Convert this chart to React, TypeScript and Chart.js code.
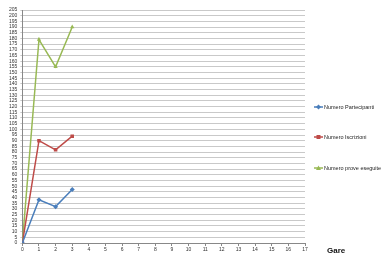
import React, { useEffect, useRef } from "react";
import { Chart, registerables } from "chart.js";

Chart.register(...registerables);

const gare = [0, 1, 2, 3];
const partecipanti = [0, 38, 32, 47];
const iscrizioni = [0, 90, 82, 94];
const proveEseguite = [0, 179, 155, 190];
const seriesNames = ["Numero Partecipanti", "Numero Iscrizioni", "Numero prove eseguite"];
const xAxisTitle = "Gare";

const colors = ["#4A7EBB", "#BE4B48", "#98B954"];
const markers = ["rectRot", "rect", "triangle"];

export default function App() {
  const ref = useRef<HTMLCanvasElement>(null);
  useEffect(() => {
    const ctx = ref.current!;
    const series = [partecipanti, iscrizioni, proveEseguite];
    const legendPlugin = {
      id: "sideLegend",
      afterDraw(chart: any) {
        const c = chart.ctx;
        const area = chart.chartArea;
        const ys = [107, 137, 168];
        c.save();
        chart.data.datasets.forEach((ds: any, i: number) => {
          const x0 = area.right + 9;
          const y = ys[i];
          c.strokeStyle = ds.borderColor;
          c.lineWidth = 1.5;
          c.beginPath();
          c.moveTo(x0, y);
          c.lineTo(x0 + 9, y);
          c.stroke();
          c.fillStyle = ds.borderColor;
          const cx = x0 + 4.5;
          c.beginPath();
          if (ds.pointStyle === "rect") c.rect(cx - 2, y - 2, 4, 4);
          else if (ds.pointStyle === "rectRot") { c.moveTo(cx, y - 2.5); c.lineTo(cx + 2.5, y); c.lineTo(cx, y + 2.5); c.lineTo(cx - 2.5, y); c.closePath(); }
          else { c.moveTo(cx, y - 2.5); c.lineTo(cx + 2.5, y + 2); c.lineTo(cx - 2.5, y + 2); c.closePath(); }
          c.fill();
          c.fillStyle = "#222";
          c.font = "5.5px Arial, 'Liberation Sans', sans-serif";
          c.textBaseline = "middle";
          c.textAlign = "left";
          c.fillText(ds.label, x0 + 10, y);
        });
        c.font = "bold 8px Arial, 'Liberation Sans', sans-serif";
        c.fillStyle = "#111";
        c.textAlign = "left";
        c.textBaseline = "middle";
        c.fillText(xAxisTitle, area.right + 22, area.bottom + 8);
        c.restore();
      },
    };
    const chart = new Chart(ctx, {
      type: "line",
      data: {
        datasets: series.map((s, i) => ({
          label: seriesNames[i],
          data: s.map((v, j) => ({ x: gare[j], y: v })),
          borderColor: colors[i],
          backgroundColor: colors[i],
          borderWidth: 1.5,
          pointStyle: markers[i] as any,
          pointRadius: 2.5,
          pointBorderWidth: 0,
          tension: 0,
        })),
      },
      options: {
        responsive: false,
        animation: false,
        layout: { padding: { left: 6, right: 83, top: 10, bottom: 0 } },
        plugins: { legend: { display: false }, tooltip: { enabled: false } },
        scales: {
          x: {
            type: "linear",
            min: 0,
            max: 17,
            ticks: { stepSize: 1, font: { size: 5, family: "Arial" }, color: "#333", padding: 1 },
            grid: { display: true, drawOnChartArea: false, tickLength: 3, color: "#888" },
            border: { color: "#888" },
          },
          y: {
            min: 0,
            max: 205,
            ticks: { stepSize: 5, autoSkip: false, font: { size: 5, family: "Arial" }, color: "#333", padding: 3 },
            grid: { color: "#c9c9c9", tickLength: 2 },
            border: { color: "#888" },
          },
        },
      },
      plugins: [legendPlugin],
    });
    return () => chart.destroy();
  }, []);
  return (
    <div style={{ position: "absolute", left: 0, top: 0, width: 388, height: 254, background: "#fff" }}>
      <canvas ref={ref} width={388} height={254} />
    </div>
  );
}
